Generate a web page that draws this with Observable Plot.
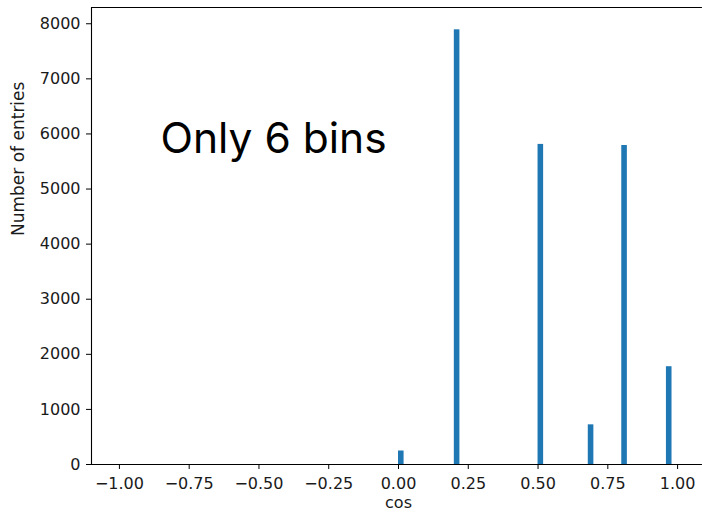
<!DOCTYPE html>
<html>
<head>
<meta charset="utf-8">
<script src="https://cdn.jsdelivr.net/npm/d3@7"></script>
<script src="https://cdn.jsdelivr.net/npm/@observablehq/plot@0.6"></script>
<style>
  html, body { margin: 0; padding: 0; background: #fff; overflow: hidden; }
  #chart svg { display: block; overflow: hidden; }
</style>
</head>
<body>
<div id="chart"></div>
<script>
// Histogram of cos values: only 6 non-empty bins (bin width 0.02)
const binStart = [0.00, 0.20, 0.50, 0.68, 0.80, 0.96];
const binWidth = 0.02;
const counts = [245, 7890, 5810, 720, 5790, 1775];
const xTicks = [-1.00, -0.75, -0.50, -0.25, 0.00, 0.25, 0.50, 0.75, 1.00];
const yTicks = [0, 1000, 2000, 3000, 4000, 5000, 6000, 7000, 8000];
const xDomain = [-1.1, 1.1];
const yDomain = [0, 8295];
const xVisibleEnd = 1.089; // the figure is cropped just before the right spine
const xLabel = "cos";
const yLabel = "Number of entries";
const note = "Only 6 bins";

const bins = binStart.map((s, i) => ({x1: s, x2: s + binWidth, y: counts[i]}));
const fmt = d => d.toFixed(2).replace("-", "\u2212");

const chart = Plot.plot({
  width: 702,
  height: 518,
  marginLeft: 91,
  marginRight: 0,
  marginTop: 7,
  marginBottom: 54,
  style: {fontFamily: "'DejaVu Sans'", fontSize: "16px", color: "#000", background: "#fff"},
  x: {domain: xDomain, range: [91, 705]},
  y: {domain: yDomain},
  marks: [
    Plot.rectY(bins, {x1: "x1", x2: "x2", y: "y", fill: "#1f77b4"}),
    Plot.axisX({ticks: xTicks, tickFormat: fmt, tickSize: 5, tickPadding: 8, label: null, stroke: "#000", fill: "#1a1a1a", fontSize: 16}),
    Plot.axisY({ticks: yTicks, tickFormat: d => String(d), tickSize: 5, tickPadding: 6, label: null, stroke: "#000", fill: "#1a1a1a", fontSize: 16}),
    Plot.ruleX([xDomain[0]], {stroke: "#000", strokeWidth: 1.1}),
    Plot.ruleY([yDomain[0], yDomain[1]], {x1: xDomain[0], x2: xVisibleEnd, stroke: "#000", strokeWidth: 1.1}),
    Plot.text([xLabel], {x: 0, frameAnchor: "bottom", dy: 43, text: d => d, fontSize: 16, fill: "#1a1a1a"}),
    Plot.text([yLabel], {frameAnchor: "left", dx: -73, rotate: -90, text: d => d, fontSize: 17, fill: "#1a1a1a"}),
    Plot.text([note], {frameAnchor: "top-left", dx: 69, dy: 115, textAnchor: "start", text: d => d, fontSize: 42.5, fontFamily: "Inter", fill: "#000"})
  ]
});
document.getElementById("chart").appendChild(chart);
</script>
</body>
</html>
